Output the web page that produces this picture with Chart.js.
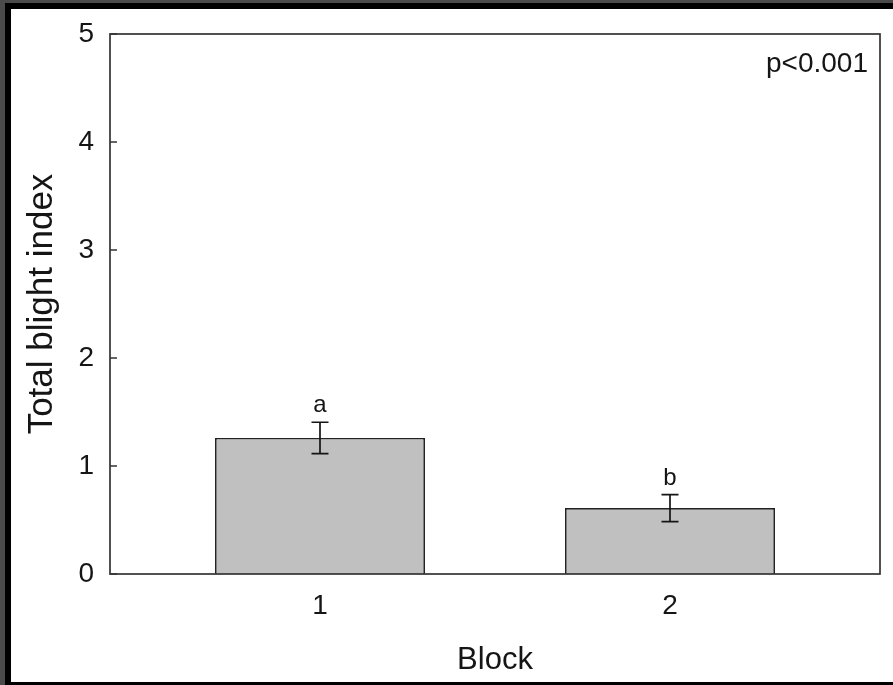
<!DOCTYPE html>
<html>
<head>
<meta charset="utf-8">
<script src="https://cdn.jsdelivr.net/npm/chart.js@4/dist/chart.umd.min.js"></script>
<style>
  html, body { margin: 0; padding: 0; background: #4a4a4a; }
  canvas { display: block; }
</style>
</head>
<body>
<canvas id="chart" width="893" height="685"></canvas>
<script>
// Block means of the total blight index, with standard errors and significance letters
const blocks = [1, 2];
const blightMeans = [1.26, 0.61];
const blightErrors = [0.145, 0.125];
const groupLetters = ['a', 'b'];
const yTicks = [0, 1, 2, 3, 4, 5];
const pValueLabel = 'p<0.001';
const xTitle = 'Block';
const yTitle = 'Total blight index';

const FONT = '"Liberation Sans", Arial, sans-serif';
const INK = '#151515';

const decorations = {
  id: 'decorations',
  beforeDraw(chart) {
    const ctx = chart.ctx;
    const W = chart.width, H = chart.height;
    ctx.save();
    ctx.fillStyle = '#4a4a4a';
    ctx.fillRect(0, 0, W, H);
    ctx.fillStyle = '#000';
    ctx.fillRect(5, 3, W - 5, H - 3);
    ctx.fillStyle = '#fff';
    ctx.fillRect(11, 9, W - 11, H - 12);
    ctx.restore();
  },
  afterDatasetsDraw(chart) {
    const ctx = chart.ctx;
    const area = chart.chartArea;
    const xs = chart.scales.x, ys = chart.scales.y;
    ctx.save();

    // error bars and significance letters
    ctx.strokeStyle = INK;
    ctx.lineWidth = 1.7;
    blocks.forEach((b, i) => {
      const x = xs.getPixelForValue(b);
      const yHi = ys.getPixelForValue(blightMeans[i] + blightErrors[i]);
      const yLo = ys.getPixelForValue(blightMeans[i] - blightErrors[i]);
      ctx.beginPath();
      ctx.moveTo(x, yHi); ctx.lineTo(x, yLo);
      ctx.moveTo(x - 8.5, yHi); ctx.lineTo(x + 8.5, yHi);
      ctx.moveTo(x - 8.5, yLo); ctx.lineTo(x + 8.5, yLo);
      ctx.stroke();

      ctx.fillStyle = INK;
      ctx.font = '24px ' + FONT;
      ctx.textAlign = 'center';
      ctx.textBaseline = 'alphabetic';
      ctx.fillText(groupLetters[i], x, yHi - 10);
    });

    // frame around the plot area
    ctx.strokeStyle = '#333';
    ctx.lineWidth = 1.7;
    ctx.strokeRect(area.left, area.top, area.right - area.left, area.bottom - area.top);

    // inward tick marks on the y axis
    ctx.beginPath();
    yTicks.forEach(v => {
      const y = ys.getPixelForValue(v);
      ctx.moveTo(area.left, y);
      ctx.lineTo(area.left + 7, y);
    });
    ctx.stroke();

    // p-value note
    ctx.fillStyle = INK;
    ctx.font = '28px ' + FONT;
    ctx.textAlign = 'right';
    ctx.textBaseline = 'alphabetic';
    ctx.fillText(pValueLabel, area.right - 12, area.top + 38);

    // axis titles
    ctx.font = '31px ' + FONT;
    ctx.textAlign = 'center';
    ctx.textBaseline = 'middle';
    ctx.fillText(xTitle, (area.left + area.right) / 2, 660);

    ctx.translate(42, (area.top + area.bottom) / 2);
    ctx.rotate(-Math.PI / 2);
    ctx.font = '35px ' + FONT;
    ctx.fillText(yTitle, 0, 0);
    ctx.restore();
  }
};

new Chart(document.getElementById('chart'), {
  type: 'bar',
  data: {
    datasets: [{
      data: blocks.map((b, i) => ({ x: b, y: blightMeans[i] })),
      backgroundColor: '#c0c0c0',
      borderColor: '#222',
      borderWidth: 1.7,
      barPercentage: 1,
      categoryPercentage: 0.6
    }]
  },
  options: {
    responsive: false,
    animation: false,
    devicePixelRatio: 1,
    layout: { padding: { top: 34, right: 13, left: 0, bottom: 0 } },
    plugins: { legend: { display: false }, tooltip: { enabled: false } },
    scales: {
      x: {
        type: 'linear',
        min: 0.4,
        max: 2.6,
        offset: false,
        grid: { display: false, drawTicks: false, offset: false },
        border: { display: false },
        ticks: {
          stepSize: 1,
          includeBounds: false,
          padding: 15,
          color: INK,
          font: { size: 28, family: FONT },
          callback: v => (blocks.includes(v) ? String(v) : '')
        },
        afterFit: s => { s.height = 111; }
      },
      y: {
        min: 0,
        max: 5,
        grid: { display: false, drawTicks: false },
        border: { display: false },
        ticks: {
          stepSize: 1,
          padding: 16,
          color: INK,
          font: { size: 28, family: FONT },
          callback: v => (yTicks.includes(v) ? String(v) : '')
        },
        afterFit: s => { s.width = 110; }
      }
    }
  },
  plugins: [decorations]
});
</script>
</body>
</html>
